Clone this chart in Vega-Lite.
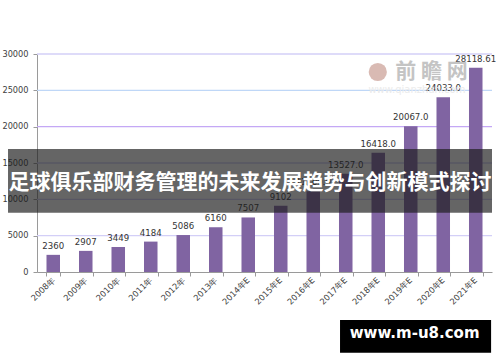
{
  "$schema": "https://vega.github.io/schema/vega-lite/v6.json",
  "autosize": "none",
  "width": 455,
  "height": 218,
  "padding": {"left": 37, "top": 54, "right": 8, "bottom": 90},
  "background": "white",
  "config": {
    "view": {"stroke": null},
    "axisY": {
      "title": null, "tickCount": 6, "format": "d",
      "labelFont": "DejaVu Sans", "labelFontSize": 8.2, "labelColor": "#404040",
      "labelPadding": 5, "tickSize": 4, "tickColor": "#9a9a9a", "domainColor": "#9a9a9a",
      "grid": false
    }
  },
  "datasets": {
    "main": [
      {"year": "2008年", "value": 2360, "label": "2360"},
      {"year": "2009年", "value": 2907, "label": "2907"},
      {"year": "2010年", "value": 3449, "label": "3449"},
      {"year": "2011年", "value": 4184, "label": "4184"},
      {"year": "2012年", "value": 5086, "label": "5086"},
      {"year": "2013年", "value": 6160, "label": "6160"},
      {"year": "2014年E", "value": 7507, "label": "7507"},
      {"year": "2015年E", "value": 9102, "label": "9102"},
      {"year": "2016年E", "value": 11100, "label": "11100.0"},
      {"year": "2017年E", "value": 13527, "label": "13527.0"},
      {"year": "2018年E", "value": 16418, "label": "16418.0"},
      {"year": "2019年E", "value": 20067, "label": "20067.0"},
      {"year": "2020年E", "value": 24033, "label": "24033.0"},
      {"year": "2021年E", "value": 28118.61, "label": "28118.61"}
    ],
    "grid": [
      {"g": 5000, "kind": "a"},
      {"g": 10000, "kind": "a"},
      {"g": 15000, "kind": "a"},
      {"g": 20000, "kind": "b"},
      {"g": 25000, "kind": "c"},
      {"g": 30000, "kind": "a"}
    ],
    "banner": [
      {"x0": -0.0637, "x1": 1.0, "y0": 16927, "y1": 8161, "tx": 0.468, "ty": 12248, "title": "足球俱乐部财务管理的未来发展趋势与创新模式探讨"}
    ],
    "stamp": [
      {"lx": 0.749, "ly": 27523, "wx": 0.867, "wy": 27523, "mark": "前 瞻 网", "ux": 0.835, "uy": 25046, "url": "www.qianzhan.com"}
    ],
    "footer": [
      {"x0": 0.666, "x1": 0.998, "y0": -6606, "y1": -11105, "tx": 0.83, "ty": -9151, "site": "www.m-u8.com"}
    ]
  },
  "resolve": {"scale": {"x": "independent", "color": "independent"}, "axis": {"x": "independent"}},
  "layer": [
    {
      "data": {"name": "grid"},
      "mark": {"type": "rule", "strokeWidth": 1.3},
      "encoding": {
        "y": {"field": "g", "type": "quantitative", "scale": {"domain": [0, 30000], "nice": false}},
        "color": {"field": "kind", "type": "nominal", "scale": {"domain": ["a", "b", "c"], "range": ["#d3cff7", "#c4a8f5", "#bfd7f7"]}, "legend": null}
      }
    },
    {
      "data": {"name": "main"},
      "layer": [
        {
          "mark": {"type": "bar", "color": "#8064A2"},
          "encoding": {
            "x": {
              "field": "year", "type": "nominal", "sort": null,
              "scale": {"paddingInner": 0.584, "paddingOuter": 0.292},
              "axis": {
                "title": null, "labelAngle": -45, "labelAlign": "right", "labelBaseline": "middle",
                "labelFont": "DejaVu Sans", "labelFontSize": 8.3, "labelColor": "#404040",
                "labelPadding": 3, "tickBand": "extent", "tickSize": 4, "tickColor": "#9a9a9a",
                "domainColor": "#9a9a9a", "grid": false
              }
            },
            "y": {
              "field": "value", "type": "quantitative",
              "scale": {"domain": [0, 30000], "nice": false}
            }
          }
        },
        {
          "mark": {"type": "text", "font": "DejaVu Sans", "fontSize": 8.6, "color": "#333333", "baseline": "alphabetic", "dy": -6},
          "encoding": {
            "x": {"field": "year", "type": "nominal", "sort": null},
            "y": {"field": "value", "type": "quantitative", "scale": {"domain": [0, 30000], "nice": false}},
            "text": {"field": "label"}
          }
        }
      ]
    },
    {
      "data": {"name": "stamp"},
      "mark": {"type": "point", "shape": "circle", "filled": true, "size": 330, "color": "#cfa9a0", "opacity": 0.8},
      "encoding": {
        "x": {"field": "lx", "type": "quantitative", "scale": {"domain": [0, 1], "nice": false, "zero": false}, "axis": null},
        "y": {"field": "ly", "type": "quantitative", "scale": {"domain": [0, 30000], "nice": false}}
      }
    },
    {
      "data": {"name": "stamp"},
      "mark": {"type": "text", "font": "Noto Sans CJK SC", "fontWeight": "bold", "fontSize": 21, "color": "#c4c4c4", "baseline": "middle", "align": "center"},
      "encoding": {
        "x": {"field": "wx", "type": "quantitative", "scale": {"domain": [0, 1], "nice": false, "zero": false}, "axis": null},
        "y": {"field": "wy", "type": "quantitative", "scale": {"domain": [0, 30000], "nice": false}},
        "text": {"field": "mark"}
      }
    },
    {
      "data": {"name": "stamp"},
      "mark": {"type": "text", "font": "DejaVu Sans", "fontSize": 10, "color": "#ebebeb", "baseline": "middle", "align": "center"},
      "encoding": {
        "x": {"field": "ux", "type": "quantitative", "scale": {"domain": [0, 1], "nice": false, "zero": false}, "axis": null},
        "y": {"field": "uy", "type": "quantitative", "scale": {"domain": [0, 30000], "nice": false}},
        "text": {"field": "url"}
      }
    },
    {
      "data": {"name": "banner"},
      "mark": {"type": "rect", "color": "#1c1c1c", "opacity": 0.68},
      "encoding": {
        "x": {"field": "x0", "type": "quantitative", "scale": {"domain": [0, 1], "nice": false, "zero": false}, "axis": null},
        "x2": {"field": "x1"},
        "y": {"field": "y0", "type": "quantitative", "scale": {"domain": [0, 30000], "nice": false}},
        "y2": {"field": "y1"}
      }
    },
    {
      "data": {"name": "banner"},
      "mark": {"type": "text", "font": "Noto Sans CJK SC", "fontWeight": "bold", "fontSize": 21, "color": "#ffffff", "baseline": "middle", "align": "center"},
      "encoding": {
        "x": {"field": "tx", "type": "quantitative", "scale": {"domain": [0, 1], "nice": false, "zero": false}, "axis": null},
        "y": {"field": "ty", "type": "quantitative", "scale": {"domain": [0, 30000], "nice": false}},
        "text": {"field": "title"}
      }
    },
    {
      "data": {"name": "footer"},
      "mark": {"type": "rect", "color": "#000000"},
      "encoding": {
        "x": {"field": "x0", "type": "quantitative", "scale": {"domain": [0, 1], "nice": false, "zero": false}, "axis": null},
        "x2": {"field": "x1"},
        "y": {"field": "y0", "type": "quantitative", "scale": {"domain": [0, 30000], "nice": false}},
        "y2": {"field": "y1"}
      }
    },
    {
      "data": {"name": "footer"},
      "mark": {"type": "text", "font": "DejaVu Sans", "fontWeight": "bold", "fontSize": 15, "color": "#ffffff", "baseline": "alphabetic", "align": "center"},
      "encoding": {
        "x": {"field": "tx", "type": "quantitative", "scale": {"domain": [0, 1], "nice": false, "zero": false}, "axis": null},
        "y": {"field": "ty", "type": "quantitative", "scale": {"domain": [0, 30000], "nice": false}},
        "text": {"field": "site"}
      }
    }
  ]
}
